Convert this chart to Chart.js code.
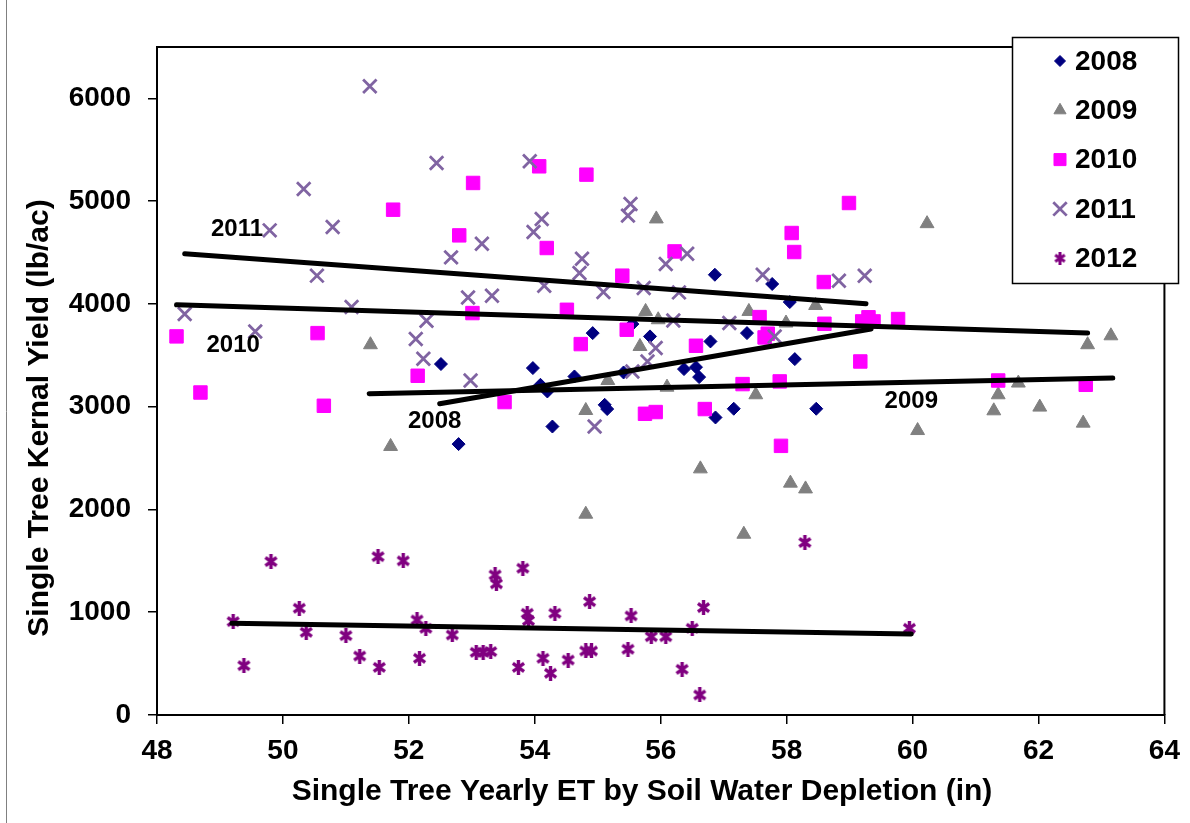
<!DOCTYPE html>
<html><head><meta charset="utf-8">
<script src="https://cdn.jsdelivr.net/npm/chart.js@4"></script>
<style>
html,body{margin:0;padding:0;background:#fff;}
#wrap{position:relative;width:1190px;height:823px;overflow:hidden;}
canvas{display:block;}
</style>
</head><body>
<div id="wrap"><canvas id="c" width="1190" height="823"></canvas></div>
<script>
// ---------- data ----------
const seriesNames = ['2008', '2009', '2010', '2011', '2012'];

const x2008 = [52.51,52.79,53.97,54.09,54.20,54.28,54.63,54.92,55.11,55.15,55.41,55.55,55.83,56.37,56.56,56.61,56.79,56.86,56.87,57.16,57.37,57.77,58.05,58.13,58.47];
const y2008 = [3415,2636,3376,3213,3148,2807,3294,3716,3018,2977,3333,3804,3684,3366,3385,3288,3635,4284,2895,2980,3716,4194,4018,3463,2980];

const x2009 = [51.39,51.71,54.81,54.81,55.16,55.67,55.76,55.93,55.96,56.10,56.63,57.32,57.40,57.51,57.99,58.06,58.30,58.46,60.08,60.23,61.29,61.36,61.68,62.02,62.71,62.78,63.15];
const y2009 = [3603,2613,2963,1954,3255,3586,3927,4827,3846,3190,2395,1759,3927,3116,3814,2256,2200,3985,2768,4781,2960,3116,3230,2996,2840,3603,3690];

const x2010 = [48.31,48.69,50.55,50.65,51.75,52.14,52.80,53.01,53.02,53.52,54.07,54.19,54.51,54.73,54.82,55.39,55.46,55.75,55.92,56.22,56.56,56.70,57.30,57.57,57.65,57.70,57.89,57.91,58.08,58.12,58.59,58.60,58.99,59.17,59.20,59.30,59.38,59.77,61.36,62.75];
const y2010 = [3684,3138,3716,3009,4917,3301,4667,3911,5177,3045,5339,4544,3943,3609,5258,4275,3749,2931,2948,4511,3593,2977,3220,3872,3674,3710,3246,2619,4690,4505,4213,3807,4982,3440,3830,3870,3830,3853,3255,3213];

const x2011 = [48.44,49.56,49.79,50.33,50.54,50.79,51.09,51.38,52.11,52.23,52.28,52.44,52.67,52.94,52.98,53.16,53.32,53.92,53.98,54.11,54.15,54.71,54.75,54.95,55.09,55.48,55.52,55.55,55.73,55.79,55.92,56.08,56.20,56.29,56.42,57.09,57.62,57.81,58.83,59.24];
const y2011 = [3902,3732,4716,5119,4275,4748,3970,6118,3658,3466,3836,5372,4453,4063,3255,4586,4080,5388,4700,4826,4177,4301,4440,2807,4116,4859,4973,3343,4155,3440,3571,4389,3839,4112,4489,3814,4284,3684,4226,4274];

const x2012 = [49.21,49.38,49.81,50.26,50.37,51.00,51.22,51.51,51.53,51.91,52.13,52.17,52.27,52.69,53.07,53.18,53.30,53.37,53.39,53.74,53.81,53.88,53.90,54.13,54.25,54.32,54.53,54.81,54.87,54.90,55.48,55.53,55.85,56.08,56.34,56.50,56.62,56.68,58.29,59.95];
const y2012 = [909,480,1493,1039,805,772,574,1541,464,1500,925,552,844,779,610,610,617,1363,1276,464,1428,990,918,552,406,990,535,623,1103,623,640,964,762,762,445,844,195,1045,1678,844];

// trend lines (start / end) per year
const trendX2008 = [52.49, 59.34], trendY2008 = [3028, 3756];
const trendX2009 = [51.37, 63.18], trendY2009 = [3126, 3278];
const trendX2010 = [48.31, 62.78], trendY2010 = [3992, 3716];
const trendX2011 = [48.44, 59.26], trendY2011 = [4489, 4002];
const trendX2012 = [49.19, 59.98], trendY2012 = [893, 789];

// trend line labels and their anchor values
const trendLabels = ['2011', '2010', '2008', '2009'];
const trendLabelX = [49.27, 49.21, 52.41, 59.98];
const trendLabelY = [4722, 3593, 2853, 3048];

// axes
const xMin = 48, xMax = 64;
const xTicks = [48, 50, 52, 54, 56, 58, 60, 62, 64];
const yMin = 0, yMax = 6500;
const yTicks = [0, 1000, 2000, 3000, 4000, 5000, 6000];
const xTitle = 'Single Tree Yearly ET by Soil Water Depletion (in)';
const yTitle = 'Single Tree Kernal Yield (lb/ac)';

// ---------- helpers ----------
const pts = (xs, ys) => xs.map((v, i) => ({x: v, y: ys[i]}));
const FONT = '"Liberation Sans", Arial, sans-serif';

function makeAsterisk(color, size, lw) {
  const c = document.createElement('canvas');
  c.width = size; c.height = size;
  const g = c.getContext('2d');
  g.strokeStyle = color; g.lineWidth = lw; g.lineCap = 'butt';
  const m = lw / 2 + 0.2, s = size;
  g.beginPath();
  g.moveTo(m, m + 1.5); g.lineTo(s - m, s - m - 1.5);
  g.moveTo(s - m, m + 1.5); g.lineTo(m, s - m - 1.5);
  g.moveTo(s / 2, 0); g.lineTo(s / 2, s);
  g.stroke();
  return c;
}
const star12 = makeAsterisk('#800080', 15, 3.4);
const star12small = makeAsterisk('#800080', 13, 3.0);

const scatterStyles = [
  {color: '#000080', pointStyle: 'rectRot', radius: 6.5, borderWidth: 1, legendRadius: 5.5},
  {color: '#808080', pointStyle: 'triangle', radius: 8, borderWidth: 1, legendRadius: 7},
  {color: '#FF00FF', pointStyle: 'rect', radius: 9.5, borderWidth: 1, legendRadius: 8.5},
  {color: '#8064A2', pointStyle: 'crossRot', radius: 9.5, borderWidth: 2.8, legendRadius: 9.5},
  {color: '#800080', pointStyle: star12, radius: 7, borderWidth: 1, legendRadius: 6, legendImg: star12small}
];
const seriesData = [pts(x2008, y2008), pts(x2009, y2009), pts(x2010, y2010), pts(x2011, y2011), pts(x2012, y2012)];

const datasets = seriesNames.map((name, i) => ({
  label: name,
  type: 'scatter',
  data: seriesData[i],
  pointStyle: scatterStyles[i].pointStyle,
  pointRadius: scatterStyles[i].radius,
  pointBorderWidth: scatterStyles[i].borderWidth,
  backgroundColor: scatterStyles[i].color,
  borderColor: scatterStyles[i].color,
  showLine: false,
  order: 5 - i + 1,
  isSeries: true
}));

const trends = [[trendX2008, trendY2008], [trendX2009, trendY2009], [trendX2010, trendY2010], [trendX2011, trendY2011], [trendX2012, trendY2012]];
trends.forEach((t, i) => {
  datasets.push({
    label: 'trend ' + seriesNames[i],
    type: 'line',
    data: pts(t[0], t[1]),
    borderColor: '#000',
    borderWidth: 5,
    borderCapStyle: 'round',
    pointRadius: 0,
    fill: false,
    tension: 0,
    order: 0
  });
});

// ---------- plugins ----------
const framePlugin = {
  id: 'frame',
  beforeDraw(chart) {
    const ctx = chart.ctx;
    ctx.save();
    ctx.fillStyle = '#fff';
    ctx.fillRect(0, 0, chart.width, chart.height);
    ctx.strokeStyle = '#808080';
    ctx.lineWidth = 1;
    ctx.beginPath(); ctx.moveTo(6.5, 0); ctx.lineTo(6.5, chart.height); ctx.stroke();
    ctx.restore();
  },
  afterDatasetsDraw(chart) {
    const {ctx, chartArea: a} = chart;
    ctx.save();
    ctx.strokeStyle = '#000';
    ctx.lineWidth = 2;
    ctx.beginPath();
    ctx.moveTo(a.left, a.top); ctx.lineTo(a.right, a.top); ctx.lineTo(a.right, a.bottom);
    ctx.stroke();
    // trend labels
    ctx.fillStyle = '#000';
    ctx.font = 'bold 24px ' + FONT;
    ctx.textAlign = 'center';
    ctx.textBaseline = 'middle';
    const xs = chart.scales.x, ys = chart.scales.y;
    trendLabels.forEach((t, i) => {
      ctx.fillText(t, xs.getPixelForValue(trendLabelX[i]), ys.getPixelForValue(trendLabelY[i]));
    });
    // axis titles
    ctx.font = 'bold 30px ' + FONT;
    ctx.fillText(xTitle, 642, 792);
    ctx.save();
    ctx.translate(40, 418);
    ctx.rotate(-Math.PI / 2);
    ctx.fillText(yTitle, 0, 0);
    ctx.restore();
    ctx.restore();
  },
  afterDraw(chart) {
    const ctx = chart.ctx;
    ctx.save();
    const L = 1012, T = 37, W = 166, H = 246;
    ctx.fillStyle = '#fff';
    ctx.fillRect(L, T, W, H);
    ctx.strokeStyle = '#000';
    ctx.lineWidth = 1.5;
    ctx.strokeRect(L + 0.5, T + 0.5, W, H);
    ctx.font = 'bold 28px ' + FONT;
    ctx.textAlign = 'left';
    ctx.textBaseline = 'middle';
    chart.data.datasets.filter(d => d.isSeries).forEach((ds, i) => {
      const st = scatterStyles[i];
      const cy = 61 + i * 49.3;
      ctx.fillStyle = st.color;
      ctx.strokeStyle = st.color;
      ctx.lineWidth = st.borderWidth;
      Chart.helpers.drawPoint(ctx, {
        pointStyle: st.legendImg || ds.pointStyle,
        radius: st.legendRadius,
        rotation: 0,
        borderWidth: st.borderWidth
      }, 1060, cy);
      ctx.fillStyle = '#000';
      ctx.fillText(ds.label, 1075, cy + 1);
    });
    ctx.restore();
  }
};

// ---------- chart ----------
new Chart(document.getElementById('c'), {
  data: {datasets},
  options: {
    responsive: false,
    animation: false,
    devicePixelRatio: 1,
    layout: {padding: {left: 0, top: 47, right: 25, bottom: 0}},
    plugins: {legend: {display: false}, tooltip: {enabled: false}},
    scales: {
      x: {
        type: 'linear', min: xMin, max: xMax,
        ticks: {color: '#000', font: {family: FONT, size: 28, weight: 'bold'}, padding: 10, maxRotation: 0, autoSkip: false,
                callback: v => String(v)},
        afterBuildTicks(s) { s.ticks = xTicks.map(v => ({value: v})); },
        grid: {drawOnChartArea: false, drawTicks: true, tickLength: 9, color: '#000', lineWidth: 1.5},
        border: {display: true, color: '#000', width: 2},
        afterFit(s) { s.height = 108; }
      },
      y: {
        type: 'linear', min: yMin, max: yMax,
        ticks: {color: '#000', font: {family: FONT, size: 28, weight: 'bold'}, padding: 17, autoSkip: false,
                callback: v => String(v)},
        afterBuildTicks(s) { s.ticks = yTicks.map(v => ({value: v})); },
        grid: {drawOnChartArea: false, drawTicks: true, tickLength: 9, color: '#000', lineWidth: 1.5},
        border: {display: true, color: '#000', width: 2},
        afterFit(s) { s.width = 157; }
      }
    }
  },
  plugins: [framePlugin]
});
</script>
</body></html>
